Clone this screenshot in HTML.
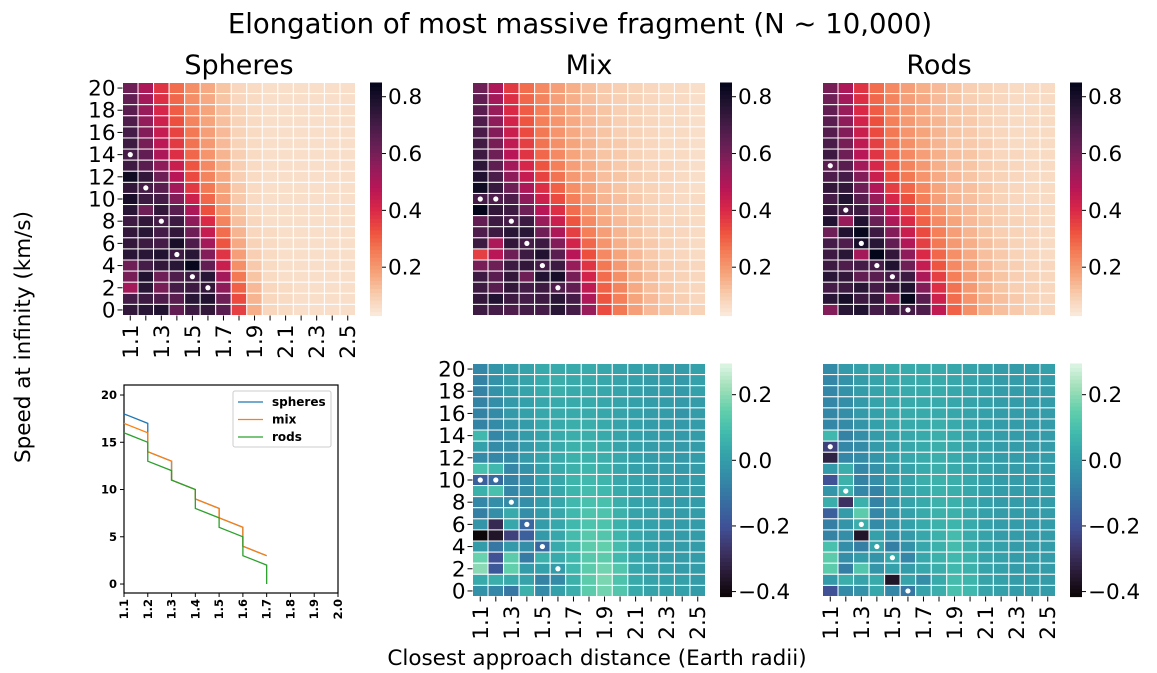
<!DOCTYPE html>
<html><head><meta charset="utf-8"><style>
html,body{margin:0;padding:0;background:#fff;}
svg{display:block;font-family:"DejaVu Sans","Liberation Sans",sans-serif;}
</style></head><body>
<svg id="fig" width="1157" height="673" viewBox="0 0 1157 673" xmlns="http://www.w3.org/2000/svg">
<text x="580" y="33" font-size="27.5" text-anchor="middle">Elongation of most massive fragment (N ~ 10,000)</text>
<text x="239" y="74" font-size="27" text-anchor="middle">Spheres</text>
<text x="589" y="74" font-size="27" text-anchor="middle">Mix</text>
<text x="939" y="74" font-size="27" text-anchor="middle">Rods</text>
<text transform="translate(30,337) rotate(-90)" font-size="21.5" text-anchor="middle">Speed at infinity (km/s)</text>
<text x="597" y="665" font-size="21.5" text-anchor="middle">Closest approach distance (Earth radii)</text>
<g id="layer"></g>
</svg>
<script>
const xCats=[1.1,1.2,1.3,1.4,1.5,1.6,1.7,1.8,1.9,2.0,2.1,2.2,2.3,2.4,2.5];
const yCats=[0,1,2,3,4,5,6,7,8,9,10,11,12,13,14,15,16,17,18,19,20];
const topTicks=[0.2,0.4,0.6,0.8];
const botTicks=[-0.4,-0.2,0.0,0.2];
// rows listed from speed 20 down to 0
const spheresVals=[
[.62,.50,.38,.28,.22,.17,.12,.08,.07,.06,.06,.06,.06,.06,.06],
[.64,.52,.39,.29,.22,.17,.12,.08,.07,.06,.06,.06,.06,.06,.06],
[.66,.54,.41,.31,.23,.18,.13,.09,.07,.06,.06,.06,.06,.06,.06],
[.68,.55,.43,.33,.24,.18,.13,.09,.07,.06,.06,.06,.06,.06,.06],
[.70,.58,.45,.35,.26,.19,.14,.09,.07,.06,.06,.06,.06,.06,.06],
[.72,.60,.47,.37,.27,.20,.14,.09,.07,.06,.06,.06,.06,.06,.06],
[.70,.64,.50,.39,.29,.21,.15,.10,.07,.06,.06,.06,.06,.06,.06],
[.72,.66,.56,.44,.32,.23,.16,.10,.07,.06,.06,.06,.06,.06,.06],
[.82,.74,.62,.48,.34,.24,.17,.10,.07,.06,.06,.06,.06,.06,.06],
[.74,.70,.66,.52,.37,.26,.18,.11,.07,.06,.06,.06,.06,.06,.06],
[.80,.72,.70,.58,.43,.29,.19,.11,.07,.06,.06,.06,.06,.06,.06],
[.76,.62,.74,.66,.50,.33,.21,.12,.07,.06,.06,.06,.06,.06,.06],
[.72,.74,.70,.72,.56,.40,.24,.13,.08,.06,.06,.06,.06,.06,.06],
[.74,.76,.70,.74,.62,.45,.28,.15,.08,.07,.06,.06,.06,.06,.06],
[.74,.72,.70,.80,.68,.52,.32,.17,.09,.07,.06,.06,.06,.06,.06],
[.76,.76,.78,.72,.76,.58,.38,.19,.10,.07,.06,.06,.06,.06,.06],
[.62,.70,.74,.76,.84,.64,.44,.22,.11,.07,.06,.06,.06,.06,.06],
[.60,.78,.62,.68,.72,.76,.52,.26,.12,.07,.06,.06,.06,.06,.06],
[.52,.76,.60,.70,.72,.74,.56,.30,.14,.08,.07,.06,.06,.06,.06],
[.70,.72,.68,.66,.76,.78,.62,.34,.15,.08,.07,.06,.06,.06,.06],
[.74,.76,.78,.64,.72,.74,.66,.36,.16,.08,.07,.06,.06,.06,.06]];
const mixVals=[
[.62,.50,.37,.28,.23,.19,.16,.13,.11,.10,.09,.08,.07,.07,.06],
[.64,.52,.39,.29,.24,.19,.16,.13,.11,.10,.09,.08,.07,.07,.06],
[.66,.54,.40,.31,.25,.20,.17,.14,.12,.10,.09,.08,.07,.07,.06],
[.68,.56,.42,.32,.25,.21,.17,.14,.12,.10,.09,.08,.07,.07,.06],
[.69,.58,.44,.34,.26,.21,.17,.14,.12,.10,.09,.08,.07,.07,.06],
[.71,.60,.46,.36,.27,.22,.18,.15,.12,.11,.09,.08,.07,.07,.06],
[.72,.62,.48,.38,.29,.23,.18,.15,.12,.11,.09,.08,.07,.07,.06],
[.75,.65,.52,.41,.32,.25,.19,.16,.13,.11,.10,.08,.08,.07,.06],
[.78,.69,.56,.45,.35,.27,.20,.17,.13,.12,.10,.09,.08,.07,.06],
[.82,.73,.62,.50,.39,.30,.22,.18,.14,.12,.10,.09,.08,.07,.06],
[.70,.68,.68,.56,.43,.34,.25,.19,.15,.13,.11,.09,.08,.07,.07],
[.86,.74,.72,.62,.48,.39,.28,.21,.16,.13,.11,.09,.08,.07,.07],
[.64,.72,.70,.72,.54,.44,.32,.23,.17,.14,.12,.10,.08,.08,.07],
[.68,.72,.76,.76,.62,.50,.36,.25,.19,.15,.12,.10,.09,.08,.07],
[.72,.50,.74,.70,.72,.58,.42,.29,.21,.16,.13,.11,.09,.08,.07],
[.36,.48,.62,.72,.78,.66,.48,.33,.23,.18,.14,.11,.09,.08,.07],
[.60,.62,.72,.74,.70,.72,.54,.38,.26,.20,.15,.12,.10,.09,.08],
[.72,.66,.74,.62,.78,.80,.60,.42,.28,.22,.16,.13,.10,.09,.08],
[.72,.66,.74,.70,.72,.68,.64,.46,.30,.24,.17,.13,.11,.09,.08],
[.74,.78,.72,.70,.72,.76,.70,.50,.32,.25,.18,.14,.11,.10,.08],
[.72,.70,.68,.70,.70,.76,.70,.54,.34,.26,.19,.14,.12,.10,.09]];
const rodsVals=[
[.60,.50,.38,.28,.23,.19,.16,.14,.12,.10,.09,.08,.07,.07,.07],
[.62,.52,.39,.29,.24,.19,.17,.14,.12,.10,.09,.08,.07,.07,.07],
[.64,.54,.40,.31,.24,.20,.17,.14,.12,.11,.09,.08,.07,.07,.07],
[.66,.56,.42,.33,.25,.20,.17,.15,.12,.11,.09,.08,.07,.07,.07],
[.67,.58,.44,.34,.26,.21,.18,.15,.12,.11,.09,.08,.07,.07,.07],
[.69,.60,.46,.36,.27,.22,.18,.15,.12,.11,.10,.08,.07,.07,.07],
[.72,.62,.48,.38,.29,.23,.19,.16,.13,.12,.10,.08,.08,.07,.07],
[.66,.66,.52,.41,.31,.24,.20,.16,.13,.12,.10,.09,.08,.07,.07],
[.68,.70,.58,.44,.33,.26,.21,.17,.14,.12,.10,.09,.08,.07,.07],
[.74,.74,.62,.49,.36,.29,.23,.18,.14,.13,.11,.09,.08,.07,.07],
[.70,.78,.66,.54,.41,.33,.25,.19,.15,.13,.11,.09,.08,.07,.07],
[.74,.72,.72,.58,.46,.36,.28,.21,.16,.14,.11,.10,.08,.08,.07],
[.78,.54,.78,.63,.50,.40,.30,.23,.18,.14,.12,.10,.09,.08,.07],
[.62,.78,.84,.72,.58,.44,.34,.25,.19,.15,.12,.10,.09,.08,.07],
[.70,.68,.80,.76,.64,.49,.36,.26,.20,.16,.13,.11,.09,.08,.07],
[.72,.76,.52,.86,.74,.56,.40,.29,.22,.17,.13,.11,.09,.08,.07],
[.72,.68,.70,.70,.78,.62,.45,.32,.23,.18,.14,.11,.10,.08,.08],
[.76,.74,.64,.66,.70,.72,.50,.36,.25,.19,.15,.12,.10,.09,.08],
[.70,.72,.76,.70,.74,.78,.58,.39,.27,.20,.15,.12,.10,.09,.08],
[.76,.80,.72,.74,.56,.84,.66,.43,.28,.21,.16,.13,.11,.09,.08],
[.58,.76,.78,.70,.72,.70,.68,.46,.30,.22,.16,.13,.11,.09,.08]];
const mixDiff=[
[-.06,-.02,.00,.02,.04,.04,.04,.04,.03,.02,.01,.01,.00,.00,.01],
[-.07,-.03,.00,.02,.04,.05,.04,.04,.03,.02,.01,.00,.00,-.01,.01],
[-.07,-.03,.00,.02,.04,.05,.04,.04,.03,.02,.01,.00,.00,-.01,.01],
[-.07,-.04,-.01,.01,.03,.04,.04,.04,.03,.02,.01,.00,.00,-.01,.00],
[-.07,-.05,-.01,.01,.03,.04,.04,.04,.03,.02,.01,.00,.00,-.02,.00],
[-.07,-.05,-.02,.00,.03,.04,.05,.05,.04,.02,.01,.00,.00,-.01,.00],
[.08,-.06,-.03,.00,.02,.04,.05,.05,.04,.02,.01,.00,.00,-.01,.00],
[.01,-.05,-.04,-.01,.02,.04,.06,.06,.05,.02,.01,.00,.00,-.01,.00],
[-.05,-.06,-.05,-.01,.02,.04,.06,.06,.05,.03,.01,.00,.00,-.01,.00],
[.10,.08,-.06,-.03,.01,.04,.06,.07,.06,.03,.01,.00,.00,-.01,.00],
[-.16,-.13,-.07,-.05,.01,.03,.07,.08,.07,.03,.02,.00,.00,-.01,.00],
[.06,.10,-.06,-.04,.00,.03,.07,.09,.08,.04,.02,.01,.00,.00,.00],
[-.06,-.04,-.05,-.04,.00,.03,.08,.10,.10,.05,.02,.01,.00,.00,.00],
[-.08,-.04,.04,-.04,.00,.03,.08,.11,.11,.06,.02,.01,.00,.00,.00],
[-.02,-.30,.03,-.14,.00,.03,.08,.11,.11,.06,.02,.01,.00,.00,.00],
[-.41,-.36,-.24,-.16,-.01,.03,.09,.13,.12,.07,.03,.01,.00,.00,.00],
[.00,-.10,-.01,-.04,-.14,.04,.09,.14,.15,.09,.03,.01,.00,.00,.00],
[.16,-.20,.14,-.09,.06,.04,.08,.13,.14,.08,.03,.01,.00,.00,.00],
[.20,-.18,.15,.00,.01,.00,.08,.14,.17,.12,.03,.01,.01,.00,.00],
[.04,.05,.04,.02,-.07,-.05,.06,.14,.18,.11,.04,.02,.01,.01,.00],
[-.03,-.06,-.10,.06,-.05,.01,.05,.14,.17,.12,.04,.02,.01,.01,.00]];
const rodsDiff=[
[-.05,-.01,.01,.03,.04,.04,.04,.04,.03,.02,.01,.00,.00,.00,.01],
[-.06,-.03,.00,.02,.03,.04,.04,.04,.03,.02,.01,.00,.00,-.01,.00],
[-.06,-.03,.00,.02,.03,.04,.04,.04,.03,.02,.01,.00,.00,-.01,.00],
[-.06,-.04,-.01,.02,.03,.04,.04,.04,.03,.02,.01,.00,.00,-.01,.00],
[-.06,-.04,-.01,.01,.03,.04,.04,.04,.03,.02,.01,.00,.00,-.01,.00],
[-.06,-.05,-.02,.01,.03,.04,.04,.05,.04,.02,.01,.00,.00,-.01,.00],
[.08,-.07,-.04,.00,.02,.03,.04,.05,.04,.02,.01,.00,.00,-.01,.00],
[-.24,-.06,-.05,-.01,.01,.03,.04,.05,.04,.02,.01,.00,.00,-.01,.00],
[-.32,-.06,-.05,-.02,.01,.03,.04,.05,.04,.02,.01,.00,.00,-.01,.00],
[-.01,.05,-.06,-.03,.00,.02,.04,.05,.04,.02,.01,.00,.00,-.01,.00],
[-.20,.06,-.07,-.04,.00,.02,.05,.06,.05,.03,.01,.00,.00,-.01,.00],
[-.02,.05,-.06,-.07,-.01,.02,.04,.06,.05,.03,.01,.00,.00,-.01,.00],
[.05,-.28,.06,-.07,-.02,.02,.04,.06,.06,.03,.01,.00,.00,-.01,.00],
[-.16,.00,.14,-.06,-.02,.01,.04,.06,.06,.03,.01,.00,.00,-.01,.00],
[-.08,-.02,.05,-.05,-.02,.01,.04,.06,.07,.04,.01,.00,.00,-.01,.00],
[-.07,-.04,-.36,.01,-.03,-.01,.03,.06,.09,.04,.02,.00,.00,-.01,.00],
[.10,-.04,-.08,.02,-.08,-.03,.03,.06,.09,.05,.02,.01,.00,.00,.00],
[.14,-.04,.00,-.02,.03,-.06,.03,.06,.08,.06,.02,.01,.00,.00,.00],
[.14,-.08,.12,-.02,.01,.00,.03,.05,.08,.06,.02,.01,.00,.00,.00],
[-.01,.05,.02,.04,-.36,.02,-.04,.04,.09,.07,.02,.01,.00,.00,.00],
[-.20,-.05,-.03,.03,-.06,-.10,.02,.05,.10,.08,.02,.01,.00,.00,.00]];
const mixDots=[[1.1,10],[1.2,10],[1.3,8],[1.4,6],[1.5,4],[1.6,2]];
const spheresDots=[[1.1,14],[1.2,11],[1.3,8],[1.4,5],[1.5,3],[1.6,2]];
const rodsDots=[[1.1,13],[1.2,9],[1.3,6],[1.4,4],[1.5,3],[1.6,0]];
const lineX=[1.1,1.2,1.3,1.4,1.5,1.6,1.7,1.8,1.9,2.0];
const lineYTicks=[0,5,10,15,20];
const spheresLineX=[1.1,1.2,1.2,1.3,1.3,1.4,1.4,1.5,1.5,1.6,1.6,1.7];
const spheresLineY=[18,17,14,13,11,10,9,8,7,6,4,3];
const mixLineX=[1.1,1.2,1.2,1.3,1.3,1.4,1.4,1.5,1.5,1.6,1.6,1.7];
const mixLineY=[17,16,14,13,11,10,9,8,7,6,4,3];
const rodsLineX=[1.1,1.2,1.2,1.3,1.3,1.4,1.4,1.5,1.5,1.6,1.6,1.7,1.7];
const rodsLineY=[16,15,13,12,11,10,8,7,6,5,3,2,0];

const NS='http://www.w3.org/2000/svg';
const layer=document.getElementById('layer');
function mk(tag,attrs,parent){const e=document.createElementNS(NS,tag);for(const k in attrs)e.setAttribute(k,attrs[k]);(parent||layer).appendChild(e);return e;}
const rocket=[[3,5,26],[34,19,49],[69,28,71],[105,31,85],[146,28,91],[185,22,87],[217,40,71],[237,80,62],[244,125,87],[246,164,124],[248,205,175],[250,235,221]];
const mako=[[11,4,5],[40,26,52],[62,52,102],[64,80,150],[55,107,160],[52,135,166],[52,160,170],[64,185,173],[98,207,172],[160,223,185],[222,245,229]];
function cm(stops,t){t=Math.max(0,Math.min(1,t));const p=t*(stops.length-1);const i=Math.min(stops.length-2,Math.floor(p));const f=p-i;const a=stops[i],b=stops[i+1];return 'rgb('+[0,1,2].map(k=>Math.round(a[k]+(b[k]-a[k])*f)).join(',')+')';}
const topRange=[0.03,0.85], botRange=[-0.415,0.295];
function topColor(v){return cm(rocket,1-(v-topRange[0])/(topRange[1]-topRange[0]));}
function botColor(v){return cm(mako,(v-botRange[0])/(botRange[1]-botRange[0]));}

function heatmap(name,x0,y0,vals,colorFn,dots,showY,showX,cbx,range,ticks){
  const W=233,H=233,cw=W/xCats.length,ch=H/yCats.length;
  const xs=c=>x0+xCats.indexOf(c)*cw, ys=r=>y0+H-(yCats.indexOf(r)+1)*ch;
  const g=mk('g',{});
  
  
  vals.forEach((row,ri)=>{const speed=yCats[yCats.length-1-ri];row.forEach((v,ci)=>{
    const r=mk('rect',{x:xs(xCats[ci]),y:ys(speed),width:cw,height:ch,fill:colorFn(v),stroke:'#fff','stroke-width':1},g);
    
    
  });});
  dots.forEach(d=>{const c=mk('circle',{cx:xs(d[0])+cw/2,cy:ys(d[1])+ch/2,r:2.6,fill:'#fff'},g);
    
    });
  if(showY){yCats.forEach(r=>{if(r%2)return;const cy=ys(r)+ch/2;
    mk('line',{x1:x0-5,x2:x0,y1:cy,y2:cy,stroke:'#000','stroke-width':1},g);
    const t=mk('text',{x:x0-7,y:cy+7.5,'font-size':21.5,'text-anchor':'end'},g);t.textContent=r;
    
    });}
  if(showX){xCats.forEach((c,i)=>{const cx=xs(c)+cw/2;
    mk('line',{x1:cx,x2:cx,y1:y0+H,y2:y0+H+5,stroke:'#000','stroke-width':1},g);
    if(i%2)return;
    const t=mk('text',{transform:'translate('+(cx+7.5)+','+(y0+H+9)+') rotate(-90)','font-size':21.5,'text-anchor':'end'},g);t.textContent=c.toFixed(1);
    
    });}
  const cg=mk('g',{});
  
  
  const n=60;for(let i=0;i<n;i++){const v=range[0]+(range[1]-range[0])*(i+0.5)/n;
    mk('rect',{x:cbx,y:y0+H-(i+1)*H/n,width:12,height:H/n+0.6,fill:colorFn(v)},cg);}
  ticks.forEach(tv=>{const ty=y0+H-(tv-range[0])/(range[1]-range[0])*H;
    mk('line',{x1:cbx+12,x2:cbx+16,y1:ty,y2:ty,stroke:'#000'},cg);
    const t=mk('text',{x:cbx+18,y:ty+7.5,'font-size':21.5},cg);t.textContent=(tv<0?'\u2212':'')+Math.abs(tv).toFixed(1);
    
    });
}
heatmap('spheres',122.5,82.5,spheresVals,topColor,spheresDots,true,true,370,topRange,topTicks);
heatmap('mix',472.5,82.5,mixVals,topColor,mixDots,false,false,720,topRange,topTicks);
heatmap('rods',822.5,82.5,rodsVals,topColor,rodsDots,false,false,1070,topRange,topTicks);
heatmap('mix-diff',472.5,363.5,mixDiff,botColor,mixDots,true,true,720,botRange,botTicks);
heatmap('rods-diff',822.5,363.5,rodsDiff,botColor,rodsDots,false,true,1070,botRange,botTicks);

const L={x0:124,x1:338,y0:385,y1:593,xmin:1.1,xmax:2.0,ymin:-0.95,ymax:21.06};
const lx=v=>L.x0+(v-L.xmin)/(L.xmax-L.xmin)*(L.x1-L.x0);
const ly=v=>L.y1-(v-L.ymin)/(L.ymax-L.ymin)*(L.y1-L.y0);
const lg=mk('g',{});


mk('rect',{x:L.x0,y:L.y0,width:L.x1-L.x0,height:L.y1-L.y0,fill:'#fff',stroke:'#000','stroke-width':1.2},lg);
function series(xsA,ysA,color,name){const p=mk('polyline',{points:xsA.map((x,i)=>lx(x)+','+ly(ysA[i])).join(' '),fill:'none',stroke:color,'stroke-width':1.3},lg);
  
  }
series(spheresLineX,spheresLineY,'#1f77b4','spheres-line');
series(mixLineX,mixLineY,'#ff7f0e','mix-line');
series(rodsLineX,rodsLineY,'#2ca02c','rods-line');
lineYTicks.forEach(v=>{const y=ly(v);mk('line',{x1:L.x0-4,x2:L.x0,y1:y,y2:y,stroke:'#000'},lg);
  const t=mk('text',{x:L.x0-7,y:y+4,'font-size':11.5,'font-weight':'bold','text-anchor':'end'},lg);t.textContent=v;
  
  });
lineX.forEach(v=>{const x=lx(v);mk('line',{x1:x,x2:x,y1:L.y1,y2:L.y1+4,stroke:'#000'},lg);
  const t=mk('text',{transform:'translate('+(x+4)+','+(L.y1+6)+') rotate(-90)','font-size':11.5,'font-weight':'bold','text-anchor':'end'},lg);t.textContent=v.toFixed(1);
  
  });
const leg=mk('g',{},lg);


mk('rect',{x:233,y:391,width:98,height:56,rx:2,fill:'#fff',stroke:'#ccc'},leg);
[['spheres','#1f77b4'],['mix','#ff7f0e'],['rods','#2ca02c']].forEach((e,i)=>{const y=402+i*17.5;
  mk('line',{x1:238,x2:263,y1:y,y2:y,stroke:e[1],'stroke-width':1.3},leg);
  const t=mk('text',{x:272,y:y+4,'font-size':12,'font-weight':'bold'},leg);t.textContent=e[0];
  
  });
</script>
</body></html>
